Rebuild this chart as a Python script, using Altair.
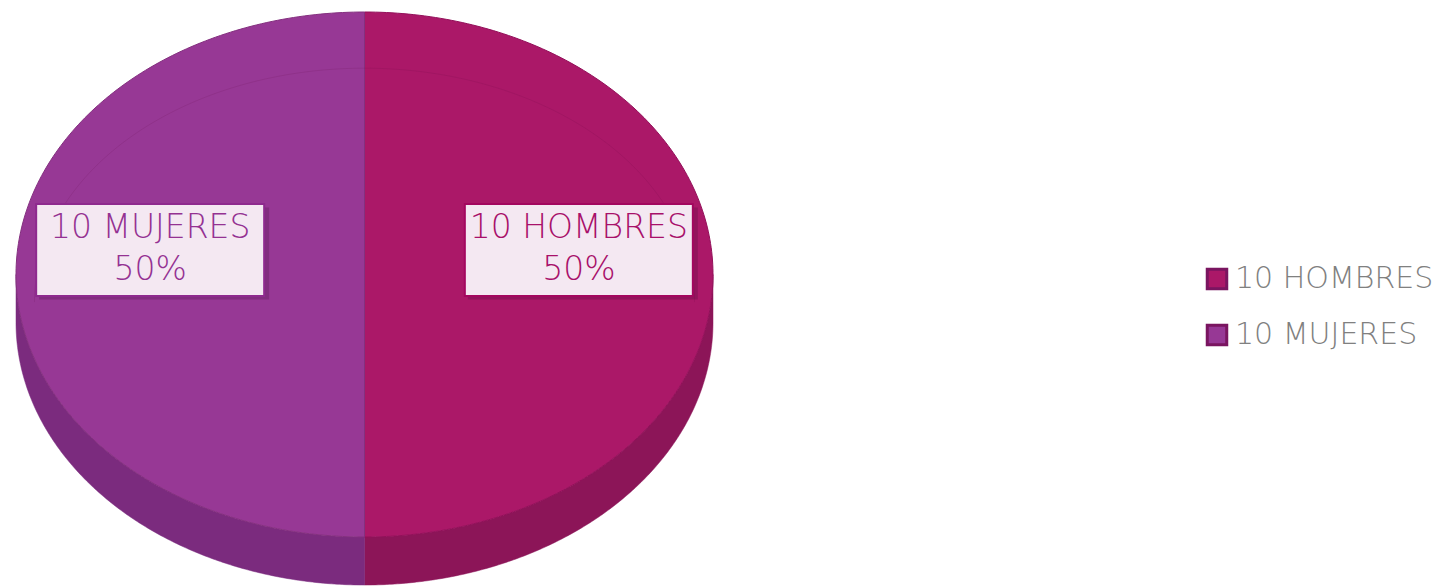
import altair as alt
import numpy as np
import pandas as pd

# ---- data ----
categories = ["10 HOMBRES", "10 MUJERES"]
counts = [10, 10]

# ---- styles ----
face_colors = ["#ab1868", "#973895"]
side_colors = ["#8c1558", "#7b2b7e"]
edge_colors = ["#93105a", "#84307f"]
box_border = ["#a3075f", "#8e2a8e"]
label_colors = ["#a8106a", "#943292"]
legend_stroke = "#7a1560"

FONT = "DejaVu Sans"
DEPTH = 0.183   # thickness of the 3D pie, in radius units
N = 200

# ---- geometry of the (elliptical) pie, computed from the data ----
total = float(sum(counts))
face_rows, side_rows, bevel_rows, label_rows = [], [], [], []
start = 90.0
seg = 0
for cat, cnt in zip(categories, counts):
    sweep = cnt / total * 360.0
    a0, a1 = start, start - sweep
    rad = np.radians(np.linspace(a0, a1, N))
    pts = [(0.0, 0.0)] + list(zip(np.cos(rad), np.sin(rad))) + [(0.0, 0.0)]
    for k, (px, py) in enumerate(pts):
        face_rows.append(dict(cat=cat, x=px, y=py, o=k))
    # visible side (lower half of the ellipse)
    for shift in (0.0, -360.0):
        lo, hi = max(a1, -180.0 + shift), min(a0, 0.0 + shift)
        if hi > lo:
            r = np.radians(np.linspace(hi, lo, N))
            top = list(zip(np.cos(r), np.sin(r)))
            bot = [(px, py - DEPTH) for px, py in top[::-1]]
            for k, (px, py) in enumerate(top + bot + [top[0]]):
                side_rows.append(dict(cat=cat, seg=seg, x=px, y=py, o=k))
            seg += 1
    mid = np.radians((a0 + a1) / 2.0)
    label_rows.append(dict(cat=cat, count=cnt, lx=0.615 * np.cos(mid), ly=0.615 * np.sin(mid)))
    start = a1

# faint inner bevel ring on the top face (upper part)
rb = np.radians(np.linspace(0, 180, 181))
for k, t in enumerate(rb):
    bevel_rows.append(dict(x=0.947 * np.cos(t), y=-0.105 + 0.891 * np.sin(t), o=k))

face_df = pd.DataFrame(face_rows)
side_df = pd.DataFrame(side_rows)
bevel_df = pd.DataFrame(bevel_rows)
label_df = pd.DataFrame(label_rows)
legend_df = pd.DataFrame({"cat": categories, "count": counts})

xs = alt.Scale(domain=[-1.02296, 3.06313], nice=False, zero=False)
ys = alt.Scale(domain=[-1.19048, 1.01524], nice=False, zero=False)
X = lambda f: alt.X(f, scale=xs, axis=None)
Y = lambda f: alt.Y(f, scale=ys, axis=None)

legend_layer = alt.Chart(legend_df).transform_calculate(zx="0", zy="0").mark_square(
    size=50, stroke=legend_stroke, strokeWidth=3, opacity=1
).encode(
    x=X("zx:Q"), y=Y("zy:Q"),
    color=alt.Color("cat:N", scale=alt.Scale(domain=categories, range=face_colors),
                    sort=categories,
                    legend=alt.Legend(
                        title=None, orient="none", legendX=1194, legendY=256,
                        symbolType="square", symbolSize=380, symbolStrokeWidth=3,
                        symbolStrokeColor=legend_stroke,
                        labelFont=FONT, labelFontWeight=300, labelFontSize=30,
                        labelColor="#808080", labelOffset=3, labelLimit=500,
                        rowPadding=24, padding=0)),
)

side_layer = alt.Chart(side_df).mark_line(strokeWidth=0.5).encode(
    x=X("x:Q"), y=Y("y:Q"), order="o:Q", detail="seg:N",
    fill=alt.Fill("cat:N", scale=alt.Scale(domain=categories, range=side_colors), legend=None),
    stroke=alt.Stroke("cat:N", scale=alt.Scale(domain=categories, range=side_colors), legend=None),
)

face_layer = alt.Chart(face_df).mark_line(strokeWidth=1).encode(
    x=X("x:Q"), y=Y("y:Q"), order="o:Q", detail="cat:N",
    fill=alt.Fill("cat:N", scale=alt.Scale(domain=categories, range=face_colors), legend=None),
    stroke=alt.Stroke("cat:N", scale=alt.Scale(domain=categories, range=edge_colors), legend=None),
)

bevel_layer = alt.Chart(bevel_df).mark_line(stroke="#5a0a40", strokeWidth=1, opacity=0.13).encode(
    x=X("x:Q"), y=Y("y:Q"), order="o:Q",
)

shadow_layer = alt.Chart(label_df).mark_rect(
    fill="#3a0a30", opacity=0.22, xOffset=-111, x2Offset=119, yOffset=-67, y2Offset=25
).encode(x=X("lx:Q"), x2="lx:Q", y=Y("ly:Q"), y2="ly:Q")

box_layer = alt.Chart(label_df).mark_rect(
    fill="#f4e8f2", strokeWidth=2, xOffset=-114, x2Offset=114, yOffset=-70.5, y2Offset=21.5
).encode(
    x=X("lx:Q"), x2="lx:Q", y=Y("ly:Q"), y2="ly:Q",
    stroke=alt.Stroke("cat:N", scale=alt.Scale(domain=categories, range=box_border), legend=None),
)

text_layer = alt.Chart(label_df).transform_joinaggregate(
    total="sum(count)"
).transform_calculate(
    txt="datum.cat + '\\n' + format(datum.count / datum.total, '.0%')"
).mark_text(
    font=FONT, fontWeight=300, fontSize=33, lineBreak="\n", lineHeight=42,
    align="center", baseline="middle", yOffset=-46.5
).encode(
    x=X("lx:Q"), y=Y("ly:Q"), text="txt:N",
    color=alt.Color("cat:N", scale=alt.Scale(domain=categories, range=label_colors), legend=None),
)

chart = alt.layer(
    legend_layer, side_layer, face_layer, bevel_layer, shadow_layer, box_layer, text_layer
).resolve_scale(
    color="independent", fill="independent", stroke="independent"
).properties(
    width=1424, height=579, padding=0, autosize=alt.AutoSizeParams(type="none"),
    background="white"
).configure_view(stroke=None)

chart.save("out.html", embed_options={"renderer": "svg", "actions": False})
